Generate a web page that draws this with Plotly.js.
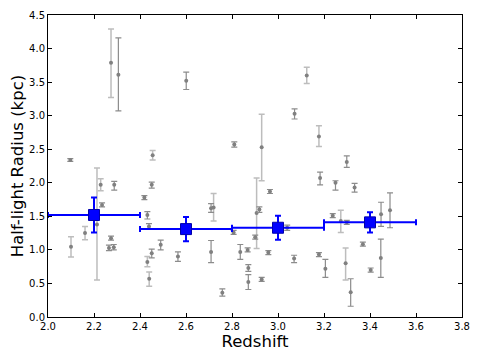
<!DOCTYPE html>
<html>
<head>
<meta charset="utf-8">
<script src="https://cdn.plot.ly/plotly-3.0.1.min.js"></script>
<style>body{margin:0;background:#fff}#chart{width:480px;height:360px}</style>
</head>
<body>
<div id="chart"></div>
<script>
////////// light gray sample (x, y, err up, err down)
var zA   = [2.274, 2.213, 2.455, 2.229, 2.929, 3.178, 3.125, 2.907, 2.440, 3.294, 2.161, 2.432, 2.720, 3.273, 2.100]
var rA   = [3.79, 1.38, 2.41, 1.97, 2.53, 2.69, 3.60, 1.55, 0.57, 0.80, 1.25, 0.82, 1.63, 1.43, 1.045]
var rA_up = [0.50, 0.84, 0.07, 0.09, 0.49, 0.16, 0.12, 0.52, 0.10, 0.23, 0.10, 0.08, 0.21, 0.16, 0.15]
var rA_dn = [0.52, 0.83, 0.07, 0.09, 0.50, 0.15, 0.12, 0.53, 0.11, 0.25, 0.10, 0.07, 0.20, 0.17, 0.15]

////////// dark gray sample
var zB   = [2.306, 2.601, 3.072, 2.097, 2.288, 2.235, 2.274, 2.265, 2.286, 2.419, 2.451, 2.432, 2.439, 2.490,
            2.451, 2.565, 2.810, 2.709, 2.807, 2.709, 2.836, 2.868, 2.871, 2.871, 2.758, 2.919, 2.901,
            2.965, 2.958, 2.929, 3.040, 3.070, 3.183, 3.250, 3.238, 3.178, 3.206, 3.299, 3.333, 3.299,
            3.369, 3.316, 3.403, 3.448, 3.487, 3.447]
var rB   = [3.61, 3.52, 3.03, 2.34, 1.97, 1.67, 1.175, 1.03, 1.04, 1.78, 1.97, 1.52, 1.35, 1.075,
            0.95, 0.90, 2.57, 1.62, 1.26, 0.97, 0.97, 1.00, 0.73, 0.52, 0.36, 1.60, 1.19,
            1.87, 0.96, 0.56, 1.33, 0.87, 2.07, 2.00, 1.51, 0.93, 0.72, 2.31, 1.93, 1.41,
            1.085, 0.37, 0.70, 1.53, 1.59, 0.88]
var rB_up = [0.55, 0.13, 0.07, 0.02, 0.05, 0.03, 0.03, 0.04, 0.04, 0.03, 0.04, 0.05, 0.04, 0.07,
            0.06, 0.07, 0.04, 0.07, 0.03, 0.17, 0.11, 0.03, 0.05, 0.11, 0.06, 0.04, 0.03,
            0.03, 0.03, 0.03, 0.04, 0.05, 0.09, 0.03, 0.03, 0.03, 0.14, 0.09, 0.06, 0.03,
            0.03, 0.20, 0.03, 0.18, 0.26, 0.28]
var rB_dn = [0.54, 0.13, 0.08, 0.02, 0.08, 0.03, 0.03, 0.04, 0.04, 0.03, 0.05, 0.06, 0.04, 0.075,
            0.07, 0.07, 0.04, 0.06, 0.03, 0.16, 0.11, 0.03, 0.05, 0.11, 0.05, 0.04, 0.03,
            0.03, 0.03, 0.03, 0.04, 0.06, 0.10, 0.11, 0.03, 0.03, 0.13, 0.08, 0.07, 0.03,
            0.03, 0.21, 0.03, 0.18, 0.26, 0.29]

////////// binned medians
var zBin   = [2.2, 2.6, 3.0, 3.4]
var zBinW  = [0.2, 0.2, 0.2, 0.2]
var rBin   = [1.52, 1.31, 1.33, 1.41]
var rBinE  = [0.26, 0.18, 0.18, 0.15]

var xTicks = [2.0, 2.2, 2.4, 2.6, 2.8, 3.0, 3.2, 3.4, 3.6, 3.8]
var yTicks = [0.0, 0.5, 1.0, 1.5, 2.0, 2.5, 3.0, 3.5, 4.0, 4.5]

var data = [{
    x: zA, y: rA, type: 'scatter', mode: 'markers',
    marker: {color: '#808080', size: 4},
    error_y: {type: 'data', symmetric: false, array: rA_up, arrayminus: rA_dn, color: '#bdbdbd', thickness: 1.5, width: 3},
    showlegend: false
  }, {
    x: zB, y: rB, type: 'scatter', mode: 'markers',
    marker: {color: '#808080', size: 4},
    error_y: {type: 'data', symmetric: false, array: rB_up, arrayminus: rB_dn, color: '#8c8c8c', thickness: 1.2, width: 3},
    showlegend: false
  }, {
    x: zBin, y: rBin, type: 'scatter', mode: 'markers',
    marker: {color: '#0000ff', size: 11, symbol: 'square', line: {color: '#0000aa', width: 1}},
    error_x: {type: 'data', array: zBinW, color: '#0000ff', thickness: 2, width: 3},
    error_y: {type: 'data', array: rBinE, color: '#0000ff', thickness: 2, width: 3},
    showlegend: false
}];

var axisBase = {
    showline: true, linecolor: '#000', linewidth: 1, mirror: 'ticks',
    ticks: 'inside', ticklen: 4, tickcolor: '#000', showgrid: false, zeroline: false,
    tickfont: {size: 10, family: 'DejaVu Sans', color: '#000'}
};

var layout = {
    width: 480, height: 360,
    margin: {l: 48, r: 18, t: 15, b: 43},
    paper_bgcolor: '#fff', plot_bgcolor: '#fff',
    xaxis: Object.assign({}, axisBase, {
      range: [2.0, 3.8], tickvals: xTicks, tickformat: '.1f',
      title: {text: 'Redshift', font: {size: 16.5, family: 'DejaVu Sans', color: '#000'}, standoff: 4}
    }),
    yaxis: Object.assign({}, axisBase, {
      range: [0, 4.5], tickvals: yTicks, tickformat: '.1f',
      title: {text: 'Half-light Radius (kpc)', font: {size: 16.5, family: 'DejaVu Sans', color: '#000'}, standoff: 1}
    })
};

Plotly.newPlot('chart', data, layout, {displayModeBar: false});
</script>
</body>
</html>
